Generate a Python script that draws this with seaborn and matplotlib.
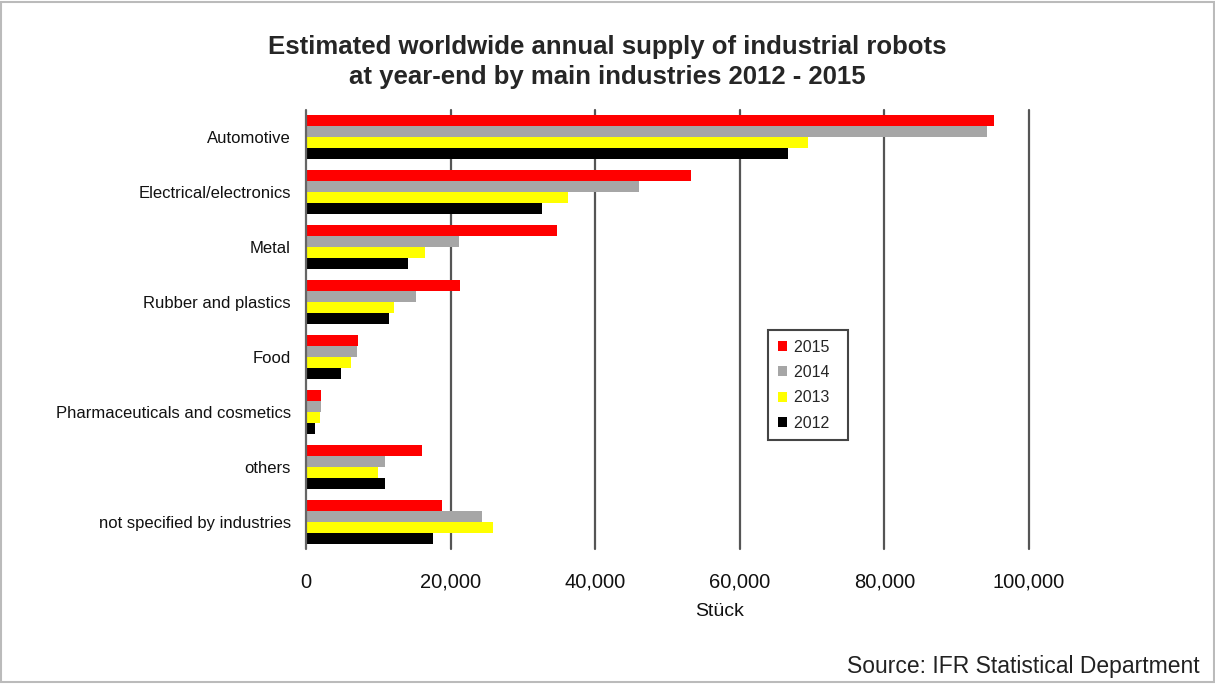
import matplotlib.pyplot as plt
import pandas as pd
import seaborn as sns
from matplotlib.patches import Rectangle
from matplotlib.ticker import FuncFormatter

industries = [
    "Automotive",
    "Electrical/electronics",
    "Metal",
    "Rubber and plastics",
    "Food",
    "Pharmaceuticals and cosmetics",
    "others",
    "not specified by industries",
]
years = ["2015", "2014", "2013", "2012"]

supply_2015 = [95200, 53300, 34700, 21300, 7200, 2100, 16000, 18800]
supply_2014 = [94200, 46000, 21200, 15200, 7000, 2100, 10900, 24300]
supply_2013 = [69400, 36200, 16500, 12200, 6200, 1900, 10000, 25900]
supply_2012 = [66600, 32700, 14100, 11500, 4900, 1200, 10900, 17600]

colors = ["#ff0000", "#a6a6a6", "#ffff00", "#000000"]

# Long-form table for seaborn
df = pd.DataFrame(
    {
        "industry": industries * 4,
        "year": [y for y in years for _ in industries],
        "units": supply_2015 + supply_2014 + supply_2013 + supply_2012,
    }
)

sns.set_theme(style="white")
plt.rcParams["font.family"] = ["Liberation Sans", "DejaVu Sans"]

fig = plt.figure(figsize=(12.15, 6.84), dpi=100)
ax = fig.add_axes([306 / 1215, 1 - 549 / 684, (1029 - 306) / 1215, (549 - 110) / 684])

sns.barplot(
    data=df,
    x="units",
    y="industry",
    hue="year",
    hue_order=years,
    order=industries,
    palette=colors,
    orient="h",
    width=0.8,
    saturation=1,
    linewidth=0,
    ax=ax,
)

ax.set_xlim(0, 100000)
ax.set_xticks(range(0, 100001, 20000))
ax.xaxis.set_major_formatter(FuncFormatter(lambda v, p: f"{int(v):,}"))
ax.tick_params(axis="x", length=0, labelsize=14.5, pad=17, colors="#111111")
ax.tick_params(axis="y", length=0, labelsize=12, pad=11, colors="#111111")
ax.set_ylabel("")
ax.set_xlabel("Stück", fontsize=14, labelpad=7, color="#111111")
ax.xaxis.set_label_coords((720 - 306) / 723, -0.123)

for x in range(20000, 100001, 20000):
    ax.axvline(x, color="#555555", lw=1.6, zorder=0, clip_on=False)
ax.axvline(0, color="#666666", lw=1.6, zorder=3, clip_on=False)
for s in ax.spines.values():
    s.set_visible(False)

leg = ax.legend(
    loc="upper left",
    bbox_to_anchor=((760 - 306) / 723, 1 - (322 - 110) / 439),
    fontsize=11.5,
    handlelength=0.6,
    handleheight=0.6,
    handletextpad=0.4,
    labelspacing=0.65,
    borderpad=0.6,
    borderaxespad=0.5,
    fancybox=False,
    framealpha=1,
)
leg.get_frame().set_edgecolor("#444444")
leg.get_frame().set_linewidth(1.5)
# widen the box a little, like the original
leg._legend_box.align = "left"
for t in leg.get_texts():
    t.set_text(t.get_text() + "  ")

fig.suptitle(
    "Estimated worldwide annual supply of industrial robots\nat year-end by main industries 2012 - 2015",
    fontsize=18.5,
    fontweight="bold",
    y=1 - 35 / 684,
    linespacing=1.3,
)

fig.text(1200 / 1215, 1 - 666 / 684, "Source: IFR Statistical Department",
         ha="right", va="center", fontsize=16.5, color="#222222")

fig.patches.append(Rectangle((0.001, 0.003), 0.998, 0.994, transform=fig.transFigure,
                             fill=False, edgecolor="#bbbbbb", lw=1.5))

fig.savefig("out.png", dpi=100)
